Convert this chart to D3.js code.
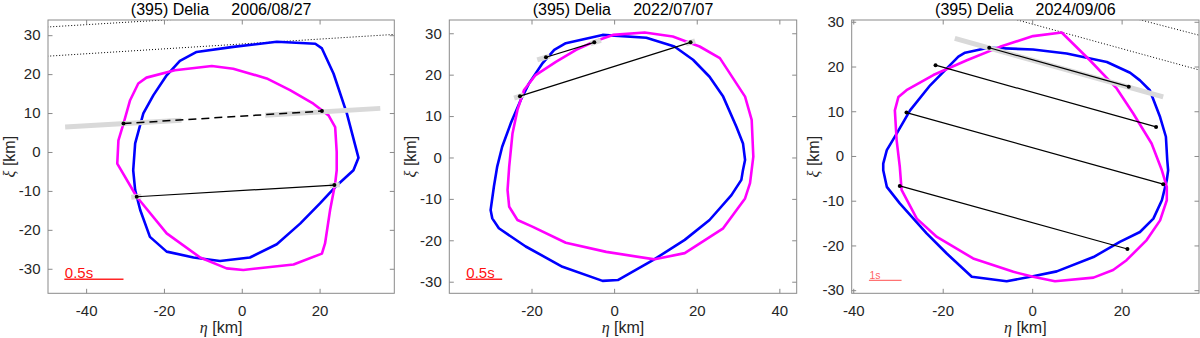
<!DOCTYPE html>
<html><head><meta charset="utf-8">
<script src="https://cdn.jsdelivr.net/npm/d3@7"></script>
<style>
body{margin:0;background:#fff}
svg{display:block}
text{font-family:"Liberation Sans",Arial,Helvetica,sans-serif}
</style>
</head><body>
<svg id="chart" width="1200" height="338"></svg>
<script>
// ---------------- data (η, ξ in km) ----------------
const panelTitles = ["(395) Delia     2006/08/27", "(395) Delia     2022/07/07", "(395) Delia     2024/09/06"];
const xTicks = [[-40, -20, 0, 20], [-20, 0, 20, 40], [-40, -20, 0, 20]];
const yTicks = [-30, -20, -10, 0, 10, 20, 30];
const etaDomains = [[-49.8, 39.2], [-39.9, 44.2], [-40.35, 37.3]];
const xiDomains = [[-36.3, 33.9], [-32.8, 33.2], [-30.7, 30.4]];

const blue2006 = [[-2.2,27],[9,28.3],[18.9,27.8],[20.6,26.6],[23.6,20.1],[27,9.9],[30,-1.5],[28.7,-4.7],[24,-9],[20.1,-13.2],[15,-18.4],[9,-23.7],[2.1,-27.1],[-5.6,-28],[-12.4,-27.1],[-19.3,-25.6],[-23.6,-21.8],[-26.1,-14.9],[-27.4,-9.8],[-27.9,-4.7],[-27.4,2.2],[-25.3,9.9],[-22.7,14.6],[-19.3,19.7],[-15.9,23.4],[-11.6,25.7]];
const magenta2006 = [[-7.7,22.1],[-2.2,21.4],[6.4,18.9],[12.4,15.9],[18.4,12.4],[22.3,9.4],[24,6.4],[24.4,0],[24.4,-4.7],[24,-8.1],[22.7,-14.9],[21.4,-23.5],[20.6,-26.1],[13.3,-28.9],[0.4,-30.3],[-3.9,-29.9],[-10.7,-27.1],[-19.3,-20.9],[-27,-11.5],[-32,-3],[-31.7,3],[-30.4,7.3],[-28.7,13.3],[-26.6,17.6],[-24.5,19.1],[-17.2,21]];
const chords2006 = [[[-27,-11.5],[23.8,-8.5]]];
const dashedChords2006 = [[[-30.4,7.3],[20.6,10.5]]];
const grayBands2006 = [[[-45.4,6.4],[-15.5,8.17]],[[6,9.45],[35.6,11.2]],[[-28.4,-11.6],[-25.8,-11.4]],[[22.6,-8.6],[25.2,-8.4]]];
const negChords2006 = [[[-50,32.1],[-10,34.5]],[[-50,24.6],[40,30.25]]];
const scaleBar2006 = {label: "0.5s", from: [-45.6,-32.7], to: [-30.4,-32.7]};

const blue2022 = [[-2.8,29.6],[7.8,28.9],[14.6,26.8],[19.1,23.6],[23.1,19.5],[26.4,14.7],[29.6,7.4],[31.2,3.4],[31.7,-0.6],[31.2,-3],[30.8,-5.4],[28.4,-9.1],[23.1,-15.1],[17.1,-19.9],[9.4,-24.8],[0.9,-29.6],[-2.8,-29.8],[-12.5,-26.4],[-21.4,-21.5],[-27.9,-17.1],[-29.5,-14.7],[-29.9,-12.7],[-29.1,-7],[-28.3,-2.2],[-27.1,2.6],[-25,8.3],[-22.6,13.9],[-20.6,17.9],[-17.3,22.8],[-14.5,26],[-11.7,27.6]];
const magenta2022 = [[7.4,30.2],[14.2,29.2],[20.7,26.8],[25.6,24],[31.7,14.7],[33.3,9.1],[33.7,0.2],[33.3,-3],[32.9,-6.2],[31.7,-9.9],[26.4,-17.1],[17.1,-23.1],[9.8,-24.6],[-1.9,-22.8],[-11.7,-20.6],[-19.8,-16.7],[-23.4,-15.1],[-25.4,-11.9],[-25.8,-7.9],[-25.4,-2.2],[-24.6,5.8],[-23.4,11.5],[-21.8,16.3],[-19,19.9],[-14.1,23.1],[-9.2,26],[-4.8,28],[-0.3,29.6]];
const chords2022 = [[[-16.5,24.2],[-4.8,27.8]],[[-22.8,14.8],[18.5,27.8]]];
const dashedChords2022 = [];
const grayBands2022 = [[[-18.6,23.55],[-15.6,24.5]],[[-5.7,27.5],[-3.2,28.3]],[[-24.2,14.35],[-21.9,15.1]],[[17.4,27.45],[19.6,28.15]]];
const negChords2022 = [];
const scaleBar2022 = {label: "0.5s", from: [-35.9,-29.4], to: [-27.1,-29.4]};

const blue2024 = [[-9.8,24.2],[0.2,23.8],[7.7,22.9],[16.7,21],[21.9,18.6],[24.1,16.9],[26.3,14.7],[28.6,8.7],[29.9,4.3],[30.2,-0.9],[30.4,-3.2],[30.1,-5.4],[29,-9.9],[27.1,-14],[24.1,-17],[19.6,-19.2],[13.7,-22.6],[5.5,-25.8],[0.2,-26.9],[-5.7,-28],[-13.5,-27],[-19.1,-21.8],[-23.6,-17.3],[-29.6,-10.6],[-32.5,-6.9],[-33.3,-3.2],[-33.3,-1.7],[-32.5,1.3],[-30.3,5],[-27.3,10.2],[-22.8,15.8],[-16.5,22.2],[-15,23.1]];
const magenta2024 = [[6.6,27.6],[12.9,21.4],[18.9,15.1],[22.6,9.5],[26.7,2.8],[29,-3.2],[30.1,-6.9],[30.1,-9.9],[28.6,-14.4],[25.6,-18.8],[21.1,-23.3],[18.1,-25.5],[13.7,-27.2],[5.1,-28],[0.2,-27],[-4.2,-25.9],[-13.2,-22.9],[-21.3,-18.1],[-25.8,-14],[-29.2,-7.6],[-29.6,-2.4],[-30.3,3.5],[-30.7,10.2],[-29.9,13.2],[-28.1,14.7],[-22.1,18.1],[-14.6,21.4],[-7.2,24.4],[0.2,26.8]];
const chords2024 = [[[-9.6,24.2],[21.6,15.5]],[[-21.6,20.3],[27.7,6.5]],[[-28.1,9.7],[29.3,-6.3]],[[-29.6,-6.7],[21.3,-20.8]]];
const dashedChords2024 = [];
const grayBands2024 = [[[-17.3,26.3],[29.3,13.2]]];
const negChords2024 = [[[-4,30.6],[40,18.5]],[[22,31],[40,26.3]]];
const scaleBar2024 = {label: "1s", from: [-36.5,-27.8], to: [-29.2,-27.8]};

// ---------------- layout ----------------
const boxes = [
  {x0: 48, x1: 394.3, y0: 20, y1: 293.3},
  {x0: 449.3, x1: 796.7, y0: 20, y1: 293.3},
  {x0: 851.7, x1: 1199, y0: 20, y1: 293.3}
];
const panels = [
  {blue: blue2006, magenta: magenta2006, chords: chords2006, dashed: dashedChords2006, gray: grayBands2006, neg: negChords2006, bar: scaleBar2006, barFont: 15, barW: 1.5, barOp: 0.85},
  {blue: blue2022, magenta: magenta2022, chords: chords2022, dashed: dashedChords2022, gray: grayBands2022, neg: negChords2022, bar: scaleBar2022, barFont: 15, barW: 1.5, barOp: 0.85},
  {blue: blue2024, magenta: magenta2024, chords: chords2024, dashed: dashedChords2024, gray: grayBands2024, neg: negChords2024, bar: scaleBar2024, barFont: 10.5, barW: 1.2, barOp: 0.55}
];

const svg = d3.select("#chart");
const tickColor = "#262626";
const boxColor = "#8a8a8a";

panels.forEach((p, i) => {
  const b = boxes[i];
  const x = d3.scaleLinear().domain(etaDomains[i]).range([b.x0, b.x1]);
  const y = d3.scaleLinear().domain(xiDomains[i]).range([b.y1, b.y0]);
  const line = d3.line().x(d => x(d[0])).y(d => y(d[1]));
  const closed = d3.line().x(d => x(d[0])).y(d => y(d[1])).curve(d3.curveLinearClosed);

  const clipId = "clip" + i;
  svg.append("clipPath").attr("id", clipId).append("rect")
    .attr("x", b.x0).attr("y", b.y0).attr("width", b.x1 - b.x0).attr("height", b.y1 - b.y0);

  const plot = svg.append("g").attr("clip-path", `url(#${clipId})`);

  // negative (miss) chords, dotted
  plot.selectAll(".neg").data(p.neg).enter().append("path")
    .attr("d", line).attr("fill", "none").attr("stroke", "#000")
    .attr("stroke-width", 1).attr("stroke-dasharray", "1,2");

  // outlines
  plot.append("path").datum(p.blue).attr("d", closed)
    .attr("fill", "none").attr("stroke", "#0000ff").attr("stroke-width", 2.6).attr("stroke-linejoin", "round");
  plot.append("path").datum(p.magenta).attr("d", closed)
    .attr("fill", "none").attr("stroke", "#ff00ff").attr("stroke-width", 2.6).attr("stroke-linejoin", "round");

  // gray uncertainty bands
  plot.selectAll(".gray").data(p.gray).enter().append("path")
    .attr("d", line).attr("fill", "none").attr("stroke", "#d9d9d9").attr("stroke-width", 5);

  // chords
  plot.selectAll(".chord").data(p.chords).enter().append("path")
    .attr("d", line).attr("fill", "none").attr("stroke", "#000").attr("stroke-width", 1.2);
  plot.selectAll(".dchord").data(p.dashed).enter().append("path")
    .attr("d", line).attr("fill", "none").attr("stroke", "#000").attr("stroke-width", 1.5)
    .attr("stroke-dasharray", "8,5");
  const ends = p.chords.concat(p.dashed).flat();
  plot.selectAll(".dot").data(ends).enter().append("circle")
    .attr("cx", d => x(d[0])).attr("cy", d => y(d[1])).attr("r", 2).attr("fill", "#000");

  // scale bar
  plot.append("path").datum([p.bar.from, p.bar.to]).attr("d", line)
    .attr("stroke", "#ff0000").attr("stroke-opacity", p.barOp).attr("stroke-width", p.barW).attr("fill", "none");
  plot.append("text").attr("x", x(p.bar.from[0]) + 0.5).attr("y", y(p.bar.from[1]) - 1)
    .attr("fill", "#ff0000").attr("fill-opacity", p.barOp + 0.1).attr("font-size", p.barFont).text(p.bar.label);

  // axes
  const fmt = d => String(d);
  const styleAxis = g => {
    g.attr("font-family", null).attr("font-size", null);
    g.select(".domain").remove();
    g.selectAll(".tick line").attr("stroke", boxColor);
    g.selectAll(".tick text").attr("fill", tickColor).style("font-size", "15px")
      .style("font-family", '"Liberation Sans", Arial, sans-serif');
  };
  svg.append("g").attr("transform", `translate(0,${b.y1})`)
    .call(d3.axisBottom(x).tickValues(xTicks[i]).tickFormat(fmt).tickSizeInner(-4.5).tickSizeOuter(0).tickPadding(12.5))
    .call(styleAxis);
  svg.append("g").attr("transform", `translate(0,${b.y0})`)
    .call(d3.axisTop(x).tickValues(xTicks[i]).tickFormat(() => "").tickSizeInner(-4.5).tickSizeOuter(0))
    .call(styleAxis);
  svg.append("g").attr("transform", `translate(${b.x0},0)`)
    .call(d3.axisLeft(y).tickValues(yTicks).tickFormat(fmt).tickSizeInner(-4.5).tickSizeOuter(0).tickPadding(7.5))
    .call(styleAxis);
  svg.append("g").attr("transform", `translate(${b.x1},0)`)
    .call(d3.axisRight(y).tickValues(yTicks).tickFormat(() => "").tickSizeInner(-4.5).tickSizeOuter(0))
    .call(styleAxis);

  svg.append("rect").attr("x", b.x0).attr("y", b.y0).attr("width", b.x1 - b.x0).attr("height", b.y1 - b.y0)
    .attr("fill", "none").attr("stroke", boxColor).attr("stroke-width", 1);

  const cx = (b.x0 + b.x1) / 2, cy = (b.y0 + b.y1) / 2;
  // title
  svg.append("text").attr("x", cx).attr("y", 14.6).attr("text-anchor", "middle")
    .attr("font-size", 16).attr("fill", "#000").style("white-space", "pre").text(panelTitles[i]);

  // x label
  const xl = svg.append("text").attr("x", cx).attr("y", 333).attr("text-anchor", "middle")
    .attr("font-size", 16).attr("fill", tickColor);
  xl.append("tspan").attr("font-family", '"Liberation Serif", "DejaVu Serif", serif').attr("font-style", "italic").text("η");
  xl.append("tspan").text(" [km]");

  // y label
  const yl = svg.append("text").attr("transform", `translate(${b.x0 - 33},${cy}) rotate(-90)`)
    .attr("text-anchor", "middle").attr("font-size", 16).attr("fill", tickColor);
  yl.append("tspan").attr("font-family", '"Liberation Serif", "DejaVu Serif", serif').attr("font-style", "italic").text("ξ");
  yl.append("tspan").text(" [km]");
});
</script>
</body></html>
